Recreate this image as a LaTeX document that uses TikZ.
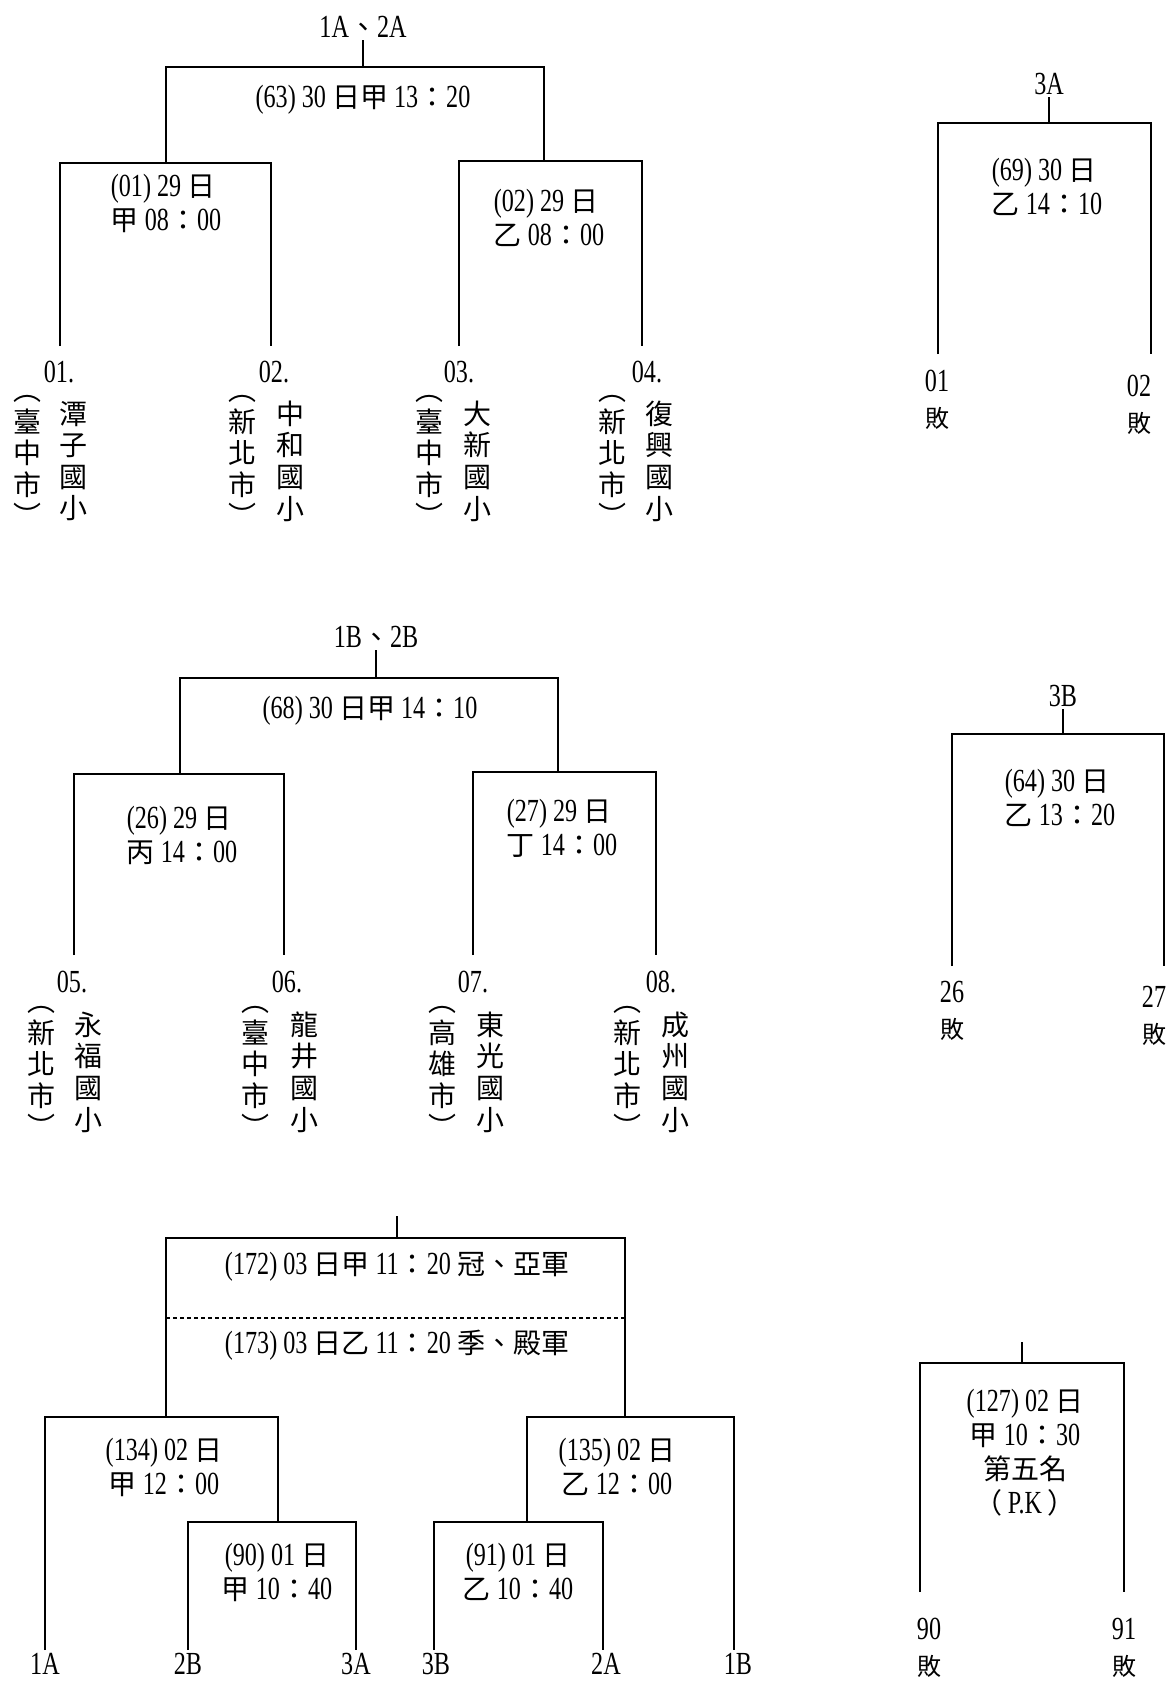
\documentclass[tikz,border=0pt]{standalone}
\usepackage{fontspec}
\setmainfont{Liberation Serif}[Scale=1.15,FakeStretch=0.75]
\newfontfamily\zhfont{Noto Sans CJK TC}
\newcommand{\zh}[1]{{\zhfont #1}}
\usetikzlibrary{positioning}

\begin{document}
\begin{tikzpicture}[
  x=0.5pt,y=-0.5pt,
  font=\fontsize{14}{17}\selectfont,
  bline/.style={line width=1pt},
  stem/.style={line width=0.6pt},
  lbl/.style={align=center,inner sep=1pt},
  lblL/.style={align=left,inner sep=1pt},
  vcol/.style={font=\zhfont\fontsize{14}{15.8}\selectfont,align=center,inner sep=0pt},
  lose/.style={align=center,inner sep=1pt,font=\fontsize{14}{18}\selectfont}
]
\useasboundingbox[fill=white] (0,0) rectangle (1168,1683);

% group A
\node[lbl] (hA) at (363,27) {1A\zh{、}2A};
\coordinate (gA) at (363,67);
\coordinate (g01) at (166,163);
\coordinate (g02) at (544,161);
\coordinate (f01) at (60,346);
\coordinate (f02) at (271,346);
\coordinate (f03) at (459,346);
\coordinate (f04) at (642,346);
\draw[bline] (f01) |- (g01) -| (f02);
\draw[bline] (f03) |- (g02) -| (f04);
\draw[bline] (g01) |- (gA) -| (g02);
\draw[stem] (gA) -- (hA);
\node[lbl] (l63) at (363,100) {(63) 30 \zh{日甲} 13\zh{：}20};
\node[lblL] (l01) at (166,203) {(01) 29 \zh{日}\\\zh{甲} 08\zh{：}00};
\node[lblL] (l02) at (549,218) {(02) 29 \zh{日}\\\zh{乙} 08\zh{：}00};
\node[lbl] (n01) at (59,372) {01.};
\node[lbl] (n02) at (274,372) {02.};
\node[lbl] (n03) at (459,372) {03.};
\node[lbl] (n04) at (647,372) {04.};
\node[vcol] (c01) at (27,461) {︵\\臺\\中\\市\\︶};
\node[vcol] (s01) at (74,461) {潭\\子\\國\\小};
\node[vcol] (c02) at (242,461) {︵\\新\\北\\市\\︶};
\node[vcol] (s02) at (290,461) {中\\和\\國\\小};
\node[vcol] (c03) at (429,461) {︵\\臺\\中\\市\\︶};
\node[vcol] (s03) at (477,461) {大\\新\\國\\小};
\node[vcol] (c04) at (612,461) {︵\\新\\北\\市\\︶};
\node[vcol] (s04) at (659,461) {復\\興\\國\\小};

% 3A
\node[lbl] (h3A) at (1049,84) {3A};
\coordinate (g69) at (1049,123);
\coordinate (f3a1) at (938,354);
\coordinate (f3a2) at (1151,354);
\draw[bline] (f3a1) |- (g69) -| (f3a2);
\draw[stem] (g69) -- (h3A);
\node[lblL] (l69) at (1047,187) {(69) 30 \zh{日}\\\zh{乙} 14\zh{：}10};
\node[lose] (d01) at (937,400) {01\\\zh{\fontsize{12}{18}\selectfont 敗}};
\node[lose] (d02) at (1139,405) {02\\\zh{\fontsize{12}{18}\selectfont 敗}};

% group B
\node[lbl] (hB) at (376,637) {1B\zh{、}2B};
\coordinate (gB) at (376,678);
\coordinate (g26) at (180,774);
\coordinate (g27) at (558,772);
\coordinate (f05) at (74,955);
\coordinate (f06) at (284,955);
\coordinate (f07) at (473,955);
\coordinate (f08) at (656,955);
\draw[bline] (f05) |- (g26) -| (f06);
\draw[bline] (f07) |- (g27) -| (f08);
\draw[bline] (g26) |- (gB) -| (g27);
\draw[stem] (gB) -- (hB);
\node[lbl] (l68) at (370,711) {(68) 30 \zh{日甲} 14\zh{：}10};
\node[lblL] (l26) at (182,835) {(26) 29 \zh{日}\\\zh{丙} 14\zh{：}00};
\node[lblL] (l27) at (562,828) {(27) 29 \zh{日}\\\zh{丁} 14\zh{：}00};
\node[lbl] (n05) at (72,982) {05.};
\node[lbl] (n06) at (287,982) {06.};
\node[lbl] (n07) at (473,982) {07.};
\node[lbl] (n08) at (661,982) {08.};
\node[vcol] (c05) at (41,1072) {︵\\新\\北\\市\\︶};
\node[vcol] (s05) at (89,1072) {永\\福\\國\\小};
\node[vcol] (c06) at (255,1072) {︵\\臺\\中\\市\\︶};
\node[vcol] (s06) at (304,1072) {龍\\井\\國\\小};
\node[vcol] (c07) at (442,1072) {︵\\高\\雄\\市\\︶};
\node[vcol] (s07) at (490,1072) {東\\光\\國\\小};
\node[vcol] (c08) at (627,1072) {︵\\新\\北\\市\\︶};
\node[vcol] (s08) at (675,1072) {成\\州\\國\\小};

% 3B
\node[lbl] (h3B) at (1063,696) {3B};
\coordinate (g64) at (1063,734);
\coordinate (f3b1) at (952,966);
\coordinate (f3b2) at (1164,966);
\draw[bline] (f3b1) |- (g64) -| (f3b2);
\draw[stem] (g64) -- (h3B);
\node[lblL] (l64) at (1060,798) {(64) 30 \zh{日}\\\zh{乙} 13\zh{：}20};
\node[lose] (d26) at (952,1011) {26\\\zh{\fontsize{12}{18}\selectfont 敗}};
\node[lose] (d27) at (1154,1016) {27\\\zh{\fontsize{12}{18}\selectfont 敗}};

% finals
\coordinate (t172) at (397,1216);
\coordinate (g172) at (397,1238);
\coordinate (g134) at (166,1417);
\coordinate (g135) at (625,1417);
\coordinate (g90) at (278,1522);
\coordinate (g91) at (527,1522);
\coordinate (d1) at (166,1318);
\coordinate (d2) at (625,1318);
\node[lbl] (b1A) at (45,1664) {1A};
\node[lbl] (b2B) at (188,1664) {2B};
\node[lbl] (b3A) at (356,1664) {3A};
\node[lbl] (b3B) at (436,1664) {3B};
\node[lbl] (b2A) at (606,1664) {2A};
\node[lbl] (b1B) at (738,1664) {1B};
\coordinate (f1A) at (45,1650);
\coordinate (f2B) at (188,1650);
\coordinate (f3A) at (356,1650);
\coordinate (f3B) at (434,1650);
\coordinate (f2A) at (603,1650);
\coordinate (f1B) at (734,1650);
\draw[bline] (g134) |- (g172) -| (g135);
\draw[bline] (f1A) |- (g134) -| (g90);
\draw[bline] (f2B) |- (g90) -| (f3A);
\draw[bline] (g91) |- (g135) -| (f1B);
\draw[bline] (f3B) |- (g91) -| (f2A);
\draw[stem] (g172) -- (t172);
\draw[line width=0.6pt,dash pattern=on 2pt off 1.5pt] (d1) -- (d2);
\node[lbl] (l172) at (397,1267) {(172) 03 \zh{日甲} 11\zh{：}20 \zh{冠、亞軍}};
\node[lbl] (l173) at (397,1345) {(173) 03 \zh{日乙} 11\zh{：}20 \zh{季、殿軍}};
\node[lbl] (l134) at (164,1467) {(134) 02 \zh{日}\\\zh{甲} 12\zh{：}00};
\node[lbl] (l135) at (617,1467) {(135) 02 \zh{日}\\\zh{乙} 12\zh{：}00};
\node[lbl] (l90) at (277,1572) {(90) 01 \zh{日}\\\zh{甲} 10\zh{：}40};
\node[lbl] (l91) at (518,1572) {(91) 01 \zh{日}\\\zh{乙} 10\zh{：}40};

% fifth place
\coordinate (t127) at (1022,1342);
\coordinate (g127) at (1022,1363);
\coordinate (f90) at (920,1592);
\coordinate (f91) at (1124,1592);
\draw[bline] (f90) |- (g127) -| (f91);
\draw[stem] (g127) -- (t127);
\node[lbl] (l127) at (1025,1453) {(127) 02 \zh{日}\\\zh{甲} 10\zh{：}30\\\zh{第五名}\\\zh{（}\,P.K\,\zh{）}};
\node[lose] (d90) at (929,1648) {90\\\zh{\fontsize{12}{18}\selectfont 敗}};
\node[lose] (d91) at (1124,1648) {91\\\zh{\fontsize{12}{18}\selectfont 敗}};
\end{tikzpicture}
\end{document}
